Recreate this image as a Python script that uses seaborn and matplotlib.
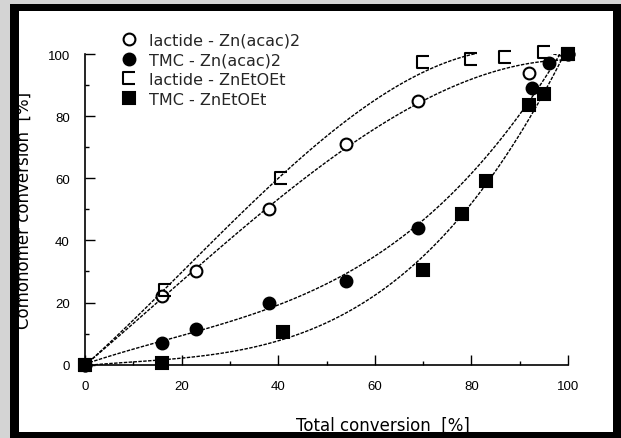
import numpy as np
import pandas as pd
import matplotlib
matplotlib.use("Agg")
import matplotlib.pyplot as plt
from matplotlib.patches import Rectangle
from matplotlib.path import Path
from matplotlib.ticker import MultipleLocator
import seaborn as sns

sns.set_theme(style="white")
plt.rcParams['font.family'] = ['Liberation Sans', 'DejaVu Sans']

# values (total conversion %, comonomer conversion %)
lac_acac_x = [0, 16, 23, 38, 54, 69, 92, 100]
lac_acac_y = [0, 22, 30, 50, 71, 85, 94, 100]

tmc_acac_x = [0, 16, 23, 38, 54, 69, 92.5, 96, 100]
tmc_acac_y = [0, 7, 11.5, 20, 27, 44, 89, 97, 100]

lac_et_x = [0, 16.5, 40.5, 70, 80, 87, 95, 100]
lac_et_y = [0, 24, 60, 97.5, 98.5, 99, 100.5, 100]

tmc_et_x = [0, 16, 41, 70, 78, 83, 92, 95, 100]
tmc_et_y = [0, 0.5, 10.5, 30.5, 48.5, 59, 83.5, 87, 100]

labels = ["lactide - Zn(acac)2", "TMC - Zn(acac)2",
          "lactide - ZnEtOEt", "TMC - ZnEtOEt"]

# open square missing its right side, as in the original
bracket = Path([(1, 1), (-1, 1), (-1, -1), (1, -1)],
               [Path.MOVETO, Path.LINETO, Path.LINETO, Path.LINETO])

series = [
    (lac_acac_x, lac_acac_y, labels[0], 'o', 'white'),
    (tmc_acac_x, tmc_acac_y, labels[1], 'o', 'black'),
    (lac_et_x, lac_et_y, labels[2], bracket, 'none'),
    (tmc_et_x, tmc_et_y, labels[3], 's', 'black'),
]

fig = plt.figure(figsize=(6.21, 4.39), dpi=100)
fig.patch.set_facecolor('#d4d4d4')

# black frame + white panel, on a background axes
bg = fig.add_axes([0, 0, 1, 1], zorder=-1)
bg.set_axis_off()
bg.set_xlim(0, 621)
bg.set_ylim(439, 0)
bg.add_patch(Rectangle((10, 5), 611, 434, facecolor='black', edgecolor='none'))
bg.add_patch(Rectangle((18.5, 12), 594, 421, facecolor='white', edgecolor='none'))

ax = fig.add_axes([85/621, 73.3/439, 483/621, 310.7/439], zorder=1)
ax.patch.set_alpha(0)

for xs, ys, lab, mk, fc in series:
    df = pd.DataFrame({"x": xs, "y": ys})
    sns.regplot(data=df, x="x", y="y", order=3, ci=None, scatter=False, ax=ax,
                line_kws=dict(color='black', lw=1.0, ls=(0, (2.5, 1)), zorder=2))
    ax.plot(xs, ys, ls='none', marker=mk, ms=8.5, mfc=fc, mec='black', mew=1.5,
            label=lab, zorder=3, clip_on=False)

ax.set_xlim(0, 100)
ax.set_ylim(0, 100)
ax.xaxis.set_major_locator(MultipleLocator(20))
ax.xaxis.set_minor_locator(MultipleLocator(10))
ax.yaxis.set_major_locator(MultipleLocator(20))
ax.yaxis.set_minor_locator(MultipleLocator(10))
ax.tick_params(which='major', direction='in', length=7, width=1, color='black',
               labelsize=9.5, labelcolor='black', pad=11)
ax.tick_params(which='minor', direction='in', length=3, width=1, color='black')
ax.tick_params(axis='x', which='both', bottom=True)
ax.tick_params(axis='y', which='both', left=True)
for s in ['top', 'right']:
    ax.spines[s].set_visible(False)
for s in ['left', 'bottom']:
    ax.spines[s].set_color('black')
    ax.spines[s].set_linewidth(1.2)

ax.set_xlabel("Total conversion  [%]", fontsize=12, color='black', family='DejaVu Sans')
ax.set_ylabel("Comonomer conversion  [%]", fontsize=12, color='black', family='DejaVu Sans')
ax.xaxis.set_label_coords((383 - 85) / 483, -0.165)
ax.yaxis.set_label_coords(-0.108, 0.5)

ax.legend(loc='upper left', bbox_to_anchor=(0.058, 1.09), frameon=False,
          prop=dict(family='DejaVu Sans', size=11.5), handletextpad=0.67,
          labelspacing=0.3, borderaxespad=0, handlelength=1.2)

fig.savefig("out.png", dpi=100, facecolor=fig.get_facecolor())
